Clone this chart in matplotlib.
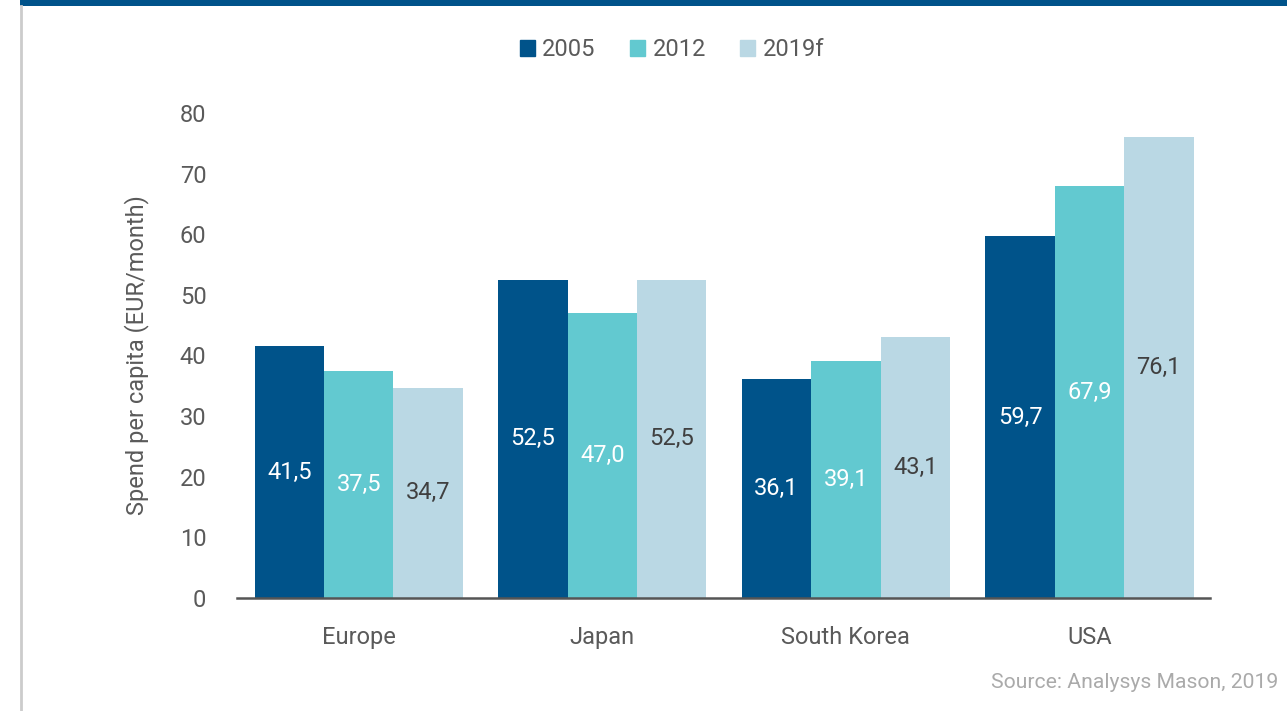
import matplotlib
matplotlib.use("Agg")
import matplotlib.pyplot as plt
import matplotlib.patches as mpatches
from matplotlib.lines import Line2D
import numpy as np

plt.rcParams["font.family"] = ["Roboto", "DejaVu Sans"]

# ── data ─────────────────────────────────────────────────────────────────────
regions = ["Europe", "Japan", "South Korea", "USA"]
years = ["2005", "2012", "2019f"]
spend_2005 = [41.5, 52.5, 36.1, 59.7]
spend_2012 = [37.5, 47.0, 39.1, 67.9]
spend_2019f = [34.7, 52.5, 43.1, 76.1]

# ── colours ──────────────────────────────────────────────────────────────────
C_DARK = "#00538A"
C_TEAL = "#62C9D0"
C_PALE = "#BAD8E4"
C_TEXT = "#5A5A5A"

series = [spend_2005, spend_2012, spend_2019f]
colors = [C_DARK, C_TEAL, C_PALE]
label_colors = ["white", "white", "#404040"]

fig = plt.figure(figsize=(12.87, 7.11), dpi=100)
ax = fig.add_axes([237 / 1287, 1 - 598 / 711, (1210 - 237) / 1287, (598 - 113) / 711])

x = np.arange(len(regions))
bar_w = 0.285
for i, (vals, col, lcol) in enumerate(zip(series, colors, label_colors)):
    xs = x + (i - 1) * bar_w
    ax.bar(xs, vals, bar_w, color=col, label=years[i], zorder=3)
    for xi, v in zip(xs, vals):
        ax.text(xi, v / 2, f"{v:.1f}".replace(".", ","), ha="center", va="center",
                fontsize=17, color=lcol)

ax.set_xlim(-0.50, 3.495)
ax.set_ylim(0, 80)
ax.set_yticks(range(0, 81, 10))
ax.set_xticks(x)
ax.set_xticklabels(regions)
ax.tick_params(axis="both", length=0, labelsize=17, labelcolor=C_TEXT)
ax.tick_params(axis="x", pad=20)
ax.tick_params(axis="y", pad=22)
for s in ["top", "right", "left"]:
    ax.spines[s].set_visible(False)
ax.spines["bottom"].set_color("#555555")
ax.spines["bottom"].set_linewidth(1.8)
ax.spines["bottom"].set_zorder(4)

ax.set_ylabel("Spend per capita (EUR/month)", fontsize=17, color=C_TEXT, labelpad=22)

handles = [mpatches.Patch(color=c) for c in colors]
fig.legend(handles, years, loc="center", bbox_to_anchor=(672 / 1287, 1 - 50 / 711),
           ncol=3, frameon=False, handlelength=0.65, handleheight=0.65,
           handletextpad=0.3, columnspacing=1.45, labelcolor=C_TEXT,
           prop={"size": 17})

fig.text(1278 / 1287, 1 - 682 / 711, "Source: Analysys Mason, 2019", ha="right",
         va="center", fontsize=15.2, color="#AAAAAA")

# page frame: blue band on top, grey rule down the left
fig.add_artist(mpatches.Rectangle((20 / 1287, 1 - 6 / 711), 1, 6 / 711,
                                  transform=fig.transFigure, color=C_DARK, lw=0))
fig.add_artist(Line2D([20.5 / 1287, 20.5 / 1287], [0, 1 - 6 / 711],
                      transform=fig.transFigure, color="#CCCCCC", lw=2))

fig.savefig("out.png", dpi=100)
